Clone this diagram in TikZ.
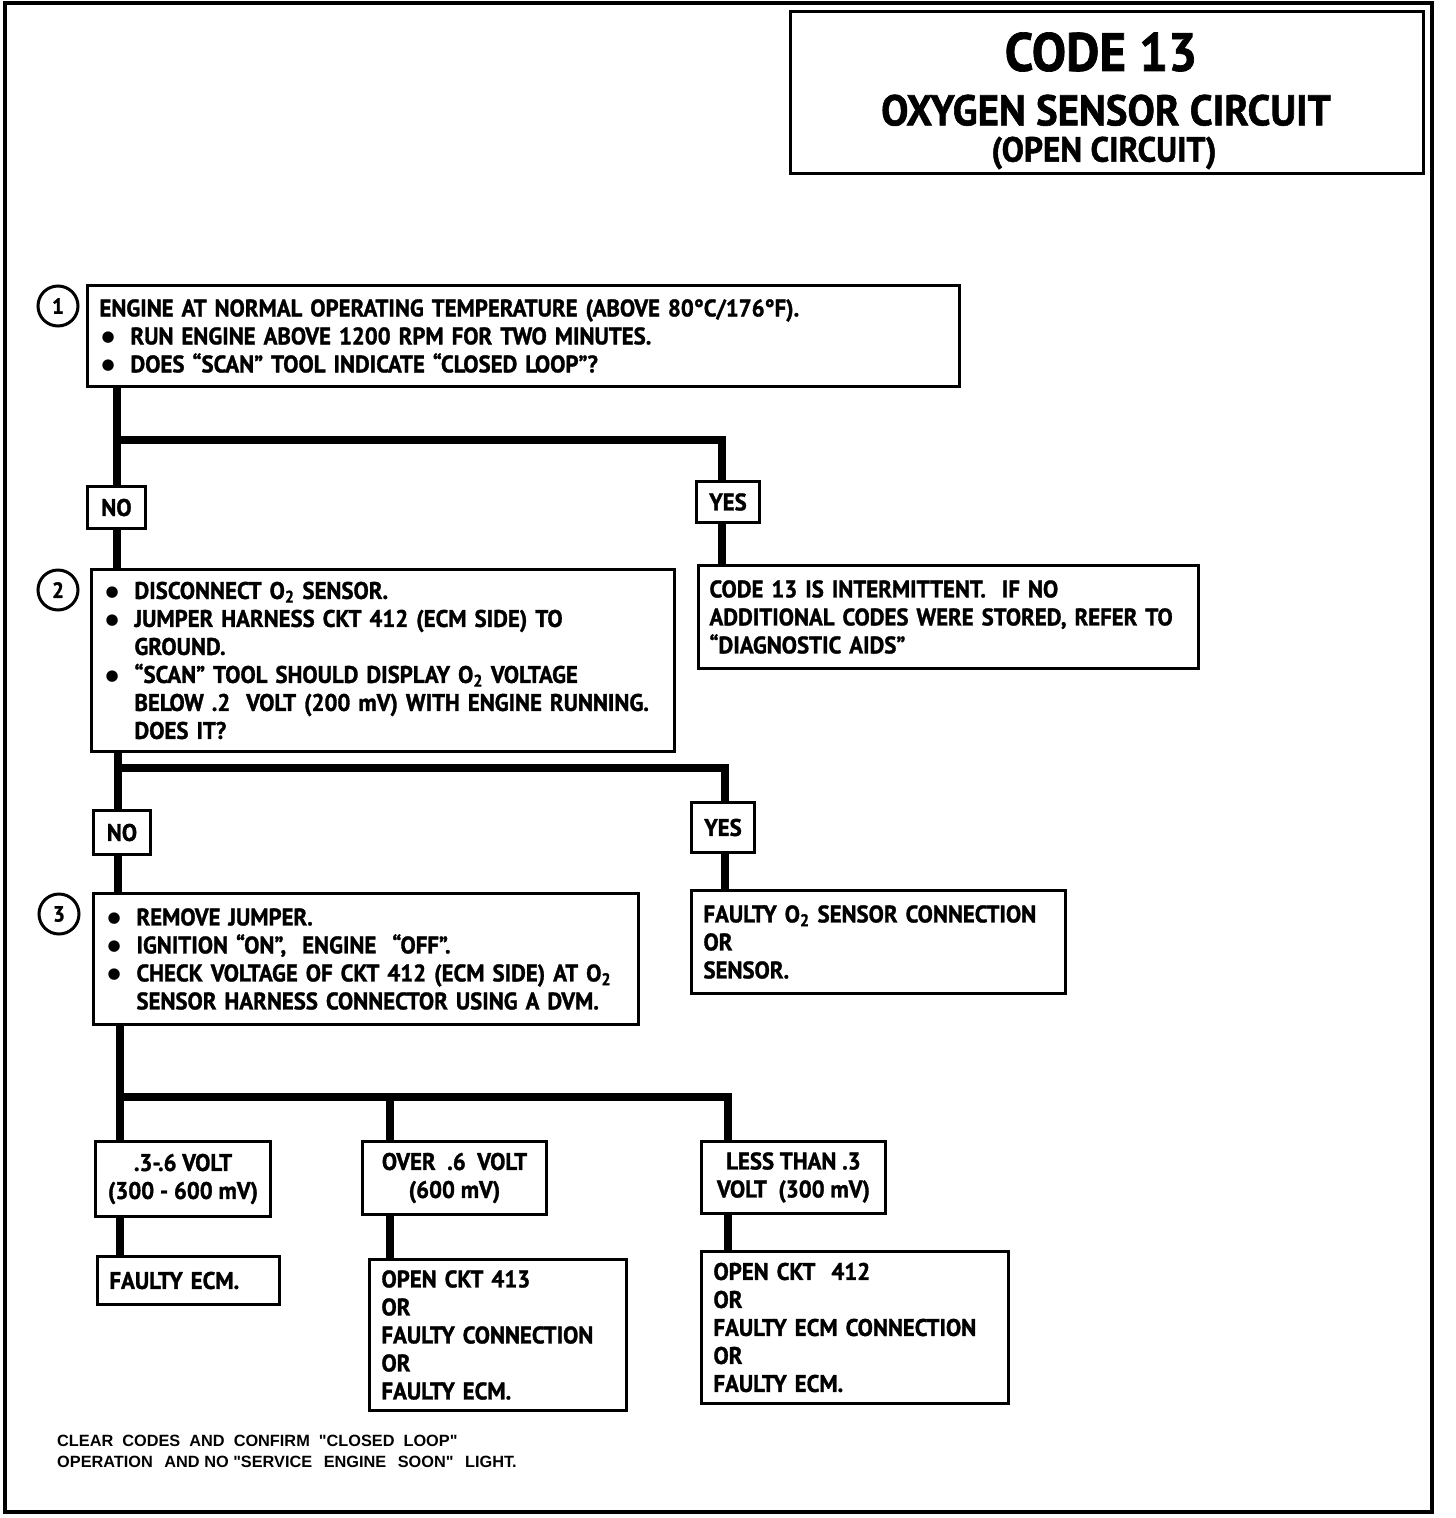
\documentclass[tikz,border=0pt]{standalone}
\usepackage{fontspec}
\newfontfamily\cf{PT Sans}[FakeStretch=0.95,FakeBold=1.3]
\newfontfamily\ft{Liberation Sans}
\newfontfamily\bulfont{DejaVu Sans}
\newcommand\body{\cf\bfseries\fontsize{24}{28}\selectfont}
\newcommand\bl{\makebox[31pt][l]{\hspace{2pt}{\bulfont\fontsize{15}{15}\selectfont\raisebox{2.5pt}{●}}}}
\newcommand\ind{\hspace*{31pt}}
\newcommand\two{\textsubscript{2}}
\newcommand\gap{\ \hspace{2.5pt}}
\tikzset{
  box/.style={draw, line width=3pt, rectangle, anchor=north west, align=left,
    inner xsep=12pt, inner ysep=0pt, font=\body},
  lab/.style={draw, line width=3pt, rectangle, anchor=north west, align=center,
    inner sep=0pt, font=\body},
  num/.style={draw, line width=3pt, circle, minimum size=40pt, inner sep=0pt,
    font=\cf\bfseries\fontsize{22}{22}\selectfont},
  conn/.style={line width=8pt},
  ttl/.style={font=\cf\bfseries, inner sep=0pt}
}
\begin{document}
\begin{tikzpicture}[x=1pt,y=-1pt]
\useasboundingbox (0,0) rectangle (1456,1518);
\draw[line width=4pt] (5,3) rectangle (1432,1512);
% title
\node (title) [draw, line width=3pt, anchor=north west, minimum width=633pt, minimum height=162pt, inner sep=0pt] at (789,10) {};
\node (t1) [ttl, font=\cf\bfseries\fontsize{54}{54}\selectfont] at (1101,52) {CODE 13};
\node (t2) [ttl, font=\cf\bfseries\fontsize{43}{43}\selectfont, text depth=0pt] at (1106,110) {OXYGEN SENSOR CIRCUIT};
\node (t3) [ttl, font=\cf\bfseries\fontsize{35}{35}\selectfont] at (1104,153) {(OPEN CIRCUIT)};
% numbers
\node (c1) [num] at (58,306) {1};
\node (c2) [num] at (58,590) {2};
\node (c3) [num] at (59,914) {3};
% step boxes
\node (b1) [box, minimum width=872pt, minimum height=101pt, text width=848pt] at (86,284)
 {ENGINE AT NORMAL OPERATING TEMPERATURE (ABOVE 80°C/176°F).\\
  \bl RUN ENGINE ABOVE 1200 RPM FOR TWO MINUTES.\\
  \bl DOES “SCAN” TOOL INDICATE “CLOSED LOOP”?};
\node (b2) [box, minimum width=583pt, minimum height=182pt, text width=559pt] at (90,568)
 {\bl DISCONNECT O\two{} SENSOR.\\
  \bl JUMPER HARNESS CKT 412 (ECM SIDE) TO\\
  \ind GROUND.\\
  \bl “SCAN” TOOL SHOULD DISPLAY O\two{} VOLTAGE\\
  \ind BELOW .2 \ VOLT (200 mV) WITH ENGINE RUNNING.\\
  \ind DOES IT?};
\node (b3) [box, minimum width=545pt, minimum height=131pt, text width=521pt] at (92,892)
 {\bl REMOVE JUMPER.\\
  \bl IGNITION “ON”, \ ENGINE \ “OFF”.\\
  \bl CHECK VOLTAGE OF CKT 412 (ECM SIDE) AT O\two\\
  \ind SENSOR HARNESS CONNECTOR USING A DVM.};
% answer labels
\node (no1) [lab, minimum width=58pt, minimum height=42pt] at (86,485) {NO};
\node (yes1) [lab, minimum width=63pt, minimum height=41pt] at (695,480) {YES};
\node (no2) [lab, minimum width=57pt, minimum height=44pt] at (92,809) {NO};
\node (yes2) [lab, minimum width=63pt, minimum height=50pt] at (690,801) {YES};
% results
\node (r1) [box, inner xsep=11pt, minimum width=500pt, minimum height=103pt, text width=478pt] at (697,564)
 {CODE 13 IS INTERMITTENT. \ IF NO\\
  ADDITIONAL CODES WERE STORED, REFER TO\\
  “DIAGNOSTIC AIDS”};
\node (r2) [box, minimum width=374pt, minimum height=103pt, text width=350pt] at (690,889)
 {FAULTY O\two{} SENSOR CONNECTION\\ OR\\ SENSOR.};
% voltage boxes
\node (v1) [lab, minimum width=175pt, minimum height=75pt] at (94,1140)
 {.3-.6 VOLT\\(300 - 600 mV)};
\node (v2) [lab, minimum width=184pt, minimum height=73pt] at (361,1140)
 {OVER \ .6 \ VOLT\\(600 mV)};
\node (v3) [lab, minimum width=184pt, minimum height=72pt] at (700,1140)
 {LESS THAN .3\\VOLT \ (300 mV)};
\node (f1) [box, minimum width=182pt, minimum height=48pt, text width=158pt] at (96,1255)
 {FAULTY ECM.};
\node (f2) [box, minimum width=257pt, minimum height=151pt, text width=233pt] at (368,1258)
 {OPEN CKT 413\\ OR\\ FAULTY CONNECTION\\ OR\\ FAULTY ECM.};
\node (f3) [box, minimum width=307pt, minimum height=152pt, text width=283pt] at (700,1250)
 {OPEN CKT \ 412\\ OR\\ FAULTY ECM CONNECTION\\ OR\\ FAULTY ECM.};
% column coordinates and junctions
\coordinate (x1) at (117,0);
\coordinate (x2) at (722,0);
\coordinate (x3) at (118,0);
\coordinate (x4) at (725,0);
\coordinate (x5) at (120,0);
\coordinate (x6) at (390,0);
\coordinate (x7) at (728,0);
\coordinate (j1) at (117,440);
\coordinate (j2) at (118,768);
\coordinate (j3) at (120,1097);
% connectors
\draw[conn] (x1 |- b1.south) -- (x1 |- no1.north);
\draw[conn] (j1) -| (x2 |- yes1.north);
\draw[conn] (x1 |- no1.south) -- (x1 |- b2.north);
\draw[conn] (x2 |- yes1.south) -- (x2 |- r1.north);
\draw[conn] (x3 |- b2.south) -- (x3 |- no2.north);
\draw[conn] (j2) -| (x4 |- yes2.north);
\draw[conn] (x3 |- no2.south) -- (x3 |- b3.north);
\draw[conn] (x4 |- yes2.south) -- (x4 |- r2.north);
\draw[conn] (x5 |- b3.south) -- (x5 |- v1.north);
\draw[conn] (j3) -| (x7 |- v3.north);
\draw[conn] (x6 |- j3) -- (x6 |- v2.north);
\draw[conn] (x5 |- v1.south) -- (x5 |- f1.north);
\draw[conn] (x6 |- v2.south) -- (x6 |- f2.north);
\draw[conn] (x7 |- v3.south) -- (x7 |- f3.north);
% footer
\node (note) [anchor=north west, align=left, inner sep=0pt, font=\ft\bfseries\fontsize{16.3}{20.5}\selectfont] at (57,1435)
 {CLEAR \ CODES \ AND \ CONFIRM \ "CLOSED \ LOOP"\\
  OPERATION \gap AND NO "SERVICE \gap ENGINE \gap SOON" \gap LIGHT.};
\end{tikzpicture}
\end{document}
